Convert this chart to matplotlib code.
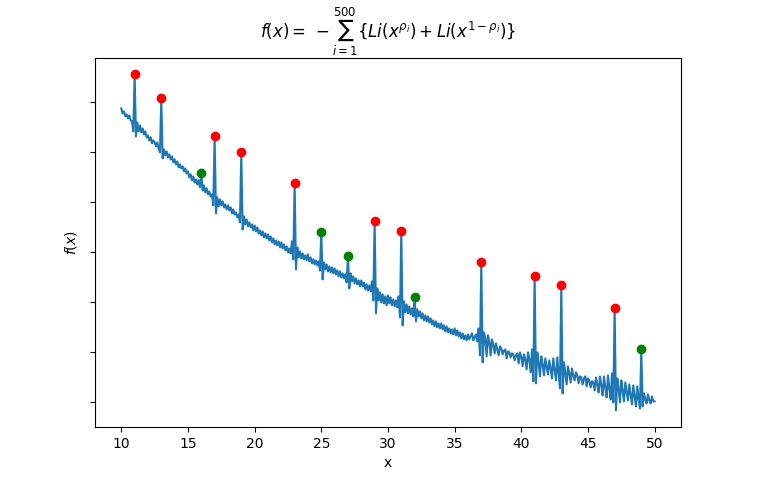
import numpy as np
import matplotlib
matplotlib.use("Agg")
import matplotlib.pyplot as plt

# values, one row per unit of x (x.0 .. x.9), arbitrary y scale
f_rows = [
    [294, 289, 291, 286, 288, 284, 287, 282, 281, 271],   # 10
    [328, 266, 280, 271, 277, 270, 274, 268, 271, 265],   # 11
    [267, 262, 265, 259, 262, 260, 256, 260, 254, 250],   # 12
    [304, 244, 253, 247, 251, 245, 248, 243, 246, 240],   # 13
    [243, 238, 241, 235, 238, 234, 236, 231, 234, 229],   # 14
    [231, 225, 228, 222, 226, 220, 223, 218, 222, 215],   # 15
    [229, 212, 217, 210, 214, 208, 211, 206, 208, 197],   # 16
    [266, 189, 205, 196, 203, 197, 201, 195, 198, 193],   # 17
    [197, 192, 195, 189, 193, 188, 190, 185, 188, 180],   # 18
    [250, 173, 186, 178, 183, 176, 180, 175, 178, 172],   # 19
    [177, 171, 175, 169, 172, 167, 171, 165, 169, 164],   # 20
    [168, 162, 166, 160, 164, 158, 162, 157, 161, 155],   # 21
    [160, 154, 158, 152, 156, 150, 154, 149, 161, 143],   # 22
    [219, 133, 155, 145, 151, 144, 149, 143, 147, 142],   # 23
    [148, 141, 145, 139, 143, 138, 142, 137, 141, 132],   # 24
    [170, 123, 140, 133, 138, 131, 136, 130, 135, 129],   # 25
    [134, 128, 132, 126, 131, 125, 129, 124, 128, 120],   # 26
    [146, 114, 129, 121, 126, 119, 124, 118, 122, 116],   # 27
    [122, 116, 120, 113, 118, 112, 117, 111, 121, 102],   # 28
    [181, 89, 114, 102, 110, 100, 108, 99, 106, 97],      # 29
    [107, 99, 105, 97, 103, 96, 102, 95, 106, 85],        # 30
    [171, 77, 101, 90, 98, 89, 96, 88, 94, 86],           # 31
    [105, 81, 93, 86, 91, 84, 89, 82, 87, 81],            # 32
    [86, 80, 84, 78, 82, 76, 81, 75, 79, 74],             # 33
    [79, 73, 77, 71, 76, 70, 74, 69, 73, 68],             # 34
    [74, 67, 72, 66, 70, 64, 69, 63, 67, 62],             # 35
    [68, 63, 66, 69, 62, 65, 68, 61, 74, 47],             # 36
    [140, 40, 70, 64, 46, 67, 61, 47, 63, 58],            # 37
    [49, 59, 53, 47, 56, 54, 48, 52, 53, 44],             # 38
    [51, 50, 45, 49, 48, 42, 47, 49, 39, 50],             # 39
    [46, 36, 48, 43, 33, 50, 43, 30, 53, 21],             # 40
    [126, 19, 50, 40, 26, 46, 38, 27, 44, 36],            # 41
    [28, 42, 34, 24, 44, 33, 22, 45, 30, 14],             # 42
    [117, 9, 40, 30, 18, 36, 29, 20, 34, 27],             # 43
    [22, 30, 27, 19, 26, 25, 18, 24, 26, 16],             # 44
    [24, 22, 15, 21, 20, 12, 25, 18, 10, 26],             # 45
    [17, 7, 26, 15, 5, 27, 14, 3, 29, 0],                 # 46
    [94, -8, 24, 14, 0, 22, 12, 1, 20, 11],               # 47
    [2, 18, 8, -2, 17, 6, -4, 16, 4, -6],                 # 48
    [53, -4, 9, 3, -1, 8, 2, -1, 6, 1],                   # 49
    [1],                                                  # 50
]
primes = [11, 13, 17, 19, 23, 29, 31, 37, 41, 43, 47]
prime_powers = [16, 25, 27, 32, 49]

f_vals = np.array([v for row in f_rows for v in row], dtype=float)
x = np.linspace(10, 50, len(f_vals))


def f_at(points):
    return [f_vals[int(round((p - 10) * 10))] for p in points]


fig, ax = plt.subplots(figsize=(7.57, 4.8), dpi=100)
ax.plot(x, f_vals)
ax.plot(primes, f_at(primes), 'ro')
ax.plot(prime_powers, f_at(prime_powers), 'go')

ax.set_yticks(range(0, 301, 50))
ax.set_yticklabels([])
ax.set_xlabel('x')
ax.set_ylabel(r'$f(x)$')
ax.set_title(r'$f(x) = \,-\sum_{i=1}^{500}\{Li(x^{\rho_i}) + Li(x^{1-\rho_i})\}$')

fig.savefig('out.png', dpi=100)
